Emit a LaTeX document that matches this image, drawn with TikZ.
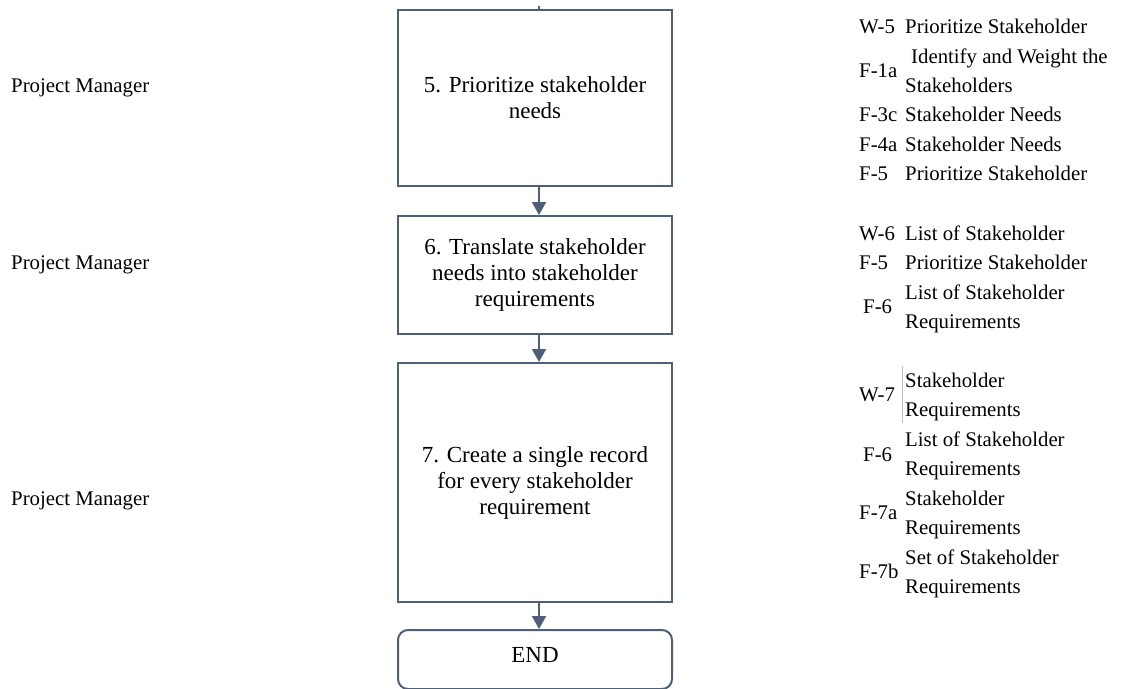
\documentclass[tikz,border=0pt]{standalone}
\usepackage{fontspec}
\setmainfont{Liberation Serif}
\usetikzlibrary{arrows.meta}
\definecolor{lc}{HTML}{4E5F7A}
\newcommand\sidefnt{\fontsize{20.8}{24}\selectfont}
\newcommand\boxfnt{\fontsize{23}{26}\selectfont}
\tikzset{
  stepbox/.style={draw=lc, line width=2pt, fill=white, inner sep=0pt, align=center, font=\boxfnt},
  endbox/.style={stepbox, rounded corners=10pt},
  flow/.style={draw=lc, line width=2pt, -{Triangle[width=14pt,length=13pt]}},
  role/.style={anchor=base west, inner sep=0pt, font=\sidefnt},
  code/.style={anchor=base west, inner sep=0pt, font=\sidefnt},
  item/.style={anchor=base west, inner sep=0pt, font=\sidefnt},
}
\begin{document}
\begin{tikzpicture}[x=1pt,y=-1pt]
\useasboundingbox[fill=white] (0,0) rectangle (1124,688);
% boxes
\node[stepbox, minimum width=274pt, minimum height=176pt] (b5) at (535,98) {5. Prioritize stakeholder\\needs};
\node[stepbox, minimum width=274pt, minimum height=118pt] (b6) at (535,275) {6. Translate stakeholder\\needs into stakeholder\\requirements};
\node[stepbox, minimum width=274pt, minimum height=239pt] (b7) at (535,482.5) {7. Create a single record\\for every stakeholder\\requirement};
\node[endbox, minimum width=274pt, minimum height=59pt, text depth=10pt] (bend) at (535,659.5) {END};
% connectors
\coordinate (top) at (539,6);
\draw[draw=lc, line width=1.5pt] (top) -- (top |- b5.north);
\draw[flow] (b5.south -| 539,0) -- (b6.north -| 539,0);
\draw[flow] (b6.south -| 539,0) -- (b7.north -| 539,0);
\draw[flow] (b7.south -| 539,0) -- (bend.north -| 539,0);
% roles
\node[role] (r5) at (11,92) {Project Manager};
\node[role] (r6) at (11,269) {Project Manager};
\node[role] (r7) at (11,505) {Project Manager};
% right column, step 5
\node[code] (c51) at (859,33) {W-5};
\node[item] (i51) at (905,33) {Prioritize Stakeholder};
\node[code] (c52) at (859,77) {F-1a};
\node[item] (i52a) at (911,63) {Identify and Weight the};
\node[item] (i52b) at (905,92) {Stakeholders};
\node[code] (c53) at (859,121) {F-3c};
\node[item] (i53) at (905,121) {Stakeholder Needs};
\node[code] (c54) at (859,151) {F-4a};
\node[item] (i54) at (905,151) {Stakeholder Needs};
\node[code] (c55) at (859,180) {F-5};
\node[item] (i55) at (905,180) {Prioritize Stakeholder};
% step 6
\node[code] (c61) at (859,240) {W-6};
\node[item] (i61) at (905,240) {List of Stakeholder};
\node[code] (c62) at (859,269) {F-5};
\node[item] (i62) at (905,269) {Prioritize Stakeholder};
\node[code] (c63) at (863,313) {F-6};
\node[item] (i63a) at (905,299) {List of Stakeholder};
\node[item] (i63b) at (905,328) {Requirements};
% step 7
\node[code] (c71) at (859,401) {W-7};
\draw[black!25, line width=0.8pt] (902,366) -- (902,423);
\node[item] (i71a) at (905,387) {Stakeholder};
\node[item] (i71b) at (905,416) {Requirements};
\node[code] (c72) at (863,461) {F-6};
\node[item] (i72a) at (905,446) {List of Stakeholder};
\node[item] (i72b) at (905,475) {Requirements};
\node[code] (c73) at (859,519) {F-7a};
\node[item] (i73a) at (905,505) {Stakeholder};
\node[item] (i73b) at (905,534) {Requirements};
\node[code] (c74) at (859,578) {F-7b};
\node[item] (i74a) at (905,564) {Set of Stakeholder};
\node[item] (i74b) at (905,593) {Requirements};
\end{tikzpicture}
\end{document}
